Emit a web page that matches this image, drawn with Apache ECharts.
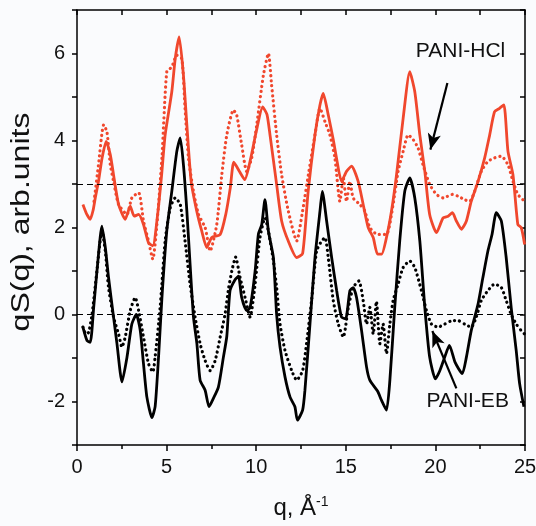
<!DOCTYPE html>
<html>
<head>
<meta charset="utf-8">
<script src="https://cdn.jsdelivr.net/npm/echarts@6/dist/echarts.min.js"></script>
<style>html,body{margin:0;padding:0;background:#fafbfd;}#c{width:536px;height:526px;}</style>
</head>
<body>
<div id="c"></div>
<script>
// ---- data: [q, qS(q)] pairs ----
const hclSolid = [[0.33,2.53],[0.55,2.3],[0.74,2.19],[0.9,2.4],[1.02,2.68],[1.2,3.06],[1.4,3.6],[1.63,3.98],[1.86,3.67],[2.04,3.21],[2.32,2.53],[2.69,2.19],[2.97,2.49],[3.19,2.26],[3.44,2.30],[3.71,2.07],[3.99,1.65],[4.23,1.58],[4.5,2.3],[4.72,3.2],[4.92,4.13],[5.29,5.12],[5.48,5.88],[5.70,6.38],[5.94,5.50],[6.13,4.36],[6.37,3.06],[6.68,2.38],[6.96,1.92],[7.24,1.54],[7.52,1.77],[7.99,1.84],[8.3,2.3],[8.55,2.9],[8.75,3.5],[9.05,3.3],[9.36,3.1],[9.7,3.6],[10.0,4.2],[10.36,4.77],[10.6,4.6],[10.77,4.13],[11.14,2.99],[11.42,2.15],[11.79,1.69],[12.26,1.31],[12.59,1.4],[12.9,2.83],[13.28,4.13],[13.55,4.8],[13.74,5.08],[14.02,4.59],[14.3,4.02],[14.48,3.6],[14.76,3.06],[15.04,3.29],[15.32,3.41],[15.69,3.06],[15.97,2.53],[16.25,2.0],[16.53,1.77],[16.77,1.39],[17.0,1.39],[17.27,1.77],[17.55,2.38],[17.83,3.21],[18.2,4.51],[18.57,5.58],[18.85,5.12],[19.13,4.13],[19.41,3.29],[19.68,2.30],[20.06,1.88],[20.43,2.22],[20.71,2.26],[20.95,2.34],[21.17,2.15],[21.45,1.96],[21.73,2.15],[22.0,2.6],[22.38,3.06],[22.75,3.6],[23.03,4.13],[23.3,4.66],[23.58,4.74],[23.82,4.82],[24.05,3.75],[24.33,3.21],[24.6,2.07],[24.79,2.0],[24.98,1.61]];
const hclDotted = [[0.95,2.6],[1.02,2.83],[1.2,3.44],[1.49,4.36],[1.67,4.2],[1.86,3.44],[2.04,3.06],[2.32,2.53],[2.79,2.3],[3.06,2.68],[3.44,2.8],[3.71,2.15],[3.99,1.69],[4.23,1.27],[4.46,2.07],[4.74,3.6],[5.01,5.58],[5.29,5.69],[5.57,5.96],[5.85,5.88],[6.03,4.74],[6.22,3.6],[6.5,2.83],[6.78,2.3],[7.15,2.0],[7.43,1.46],[7.8,2.07],[8.08,3.21],[8.36,4.13],[8.73,4.7],[8.91,4.59],[9.19,3.9],[9.47,3.29],[9.75,3.6],[10.03,4.36],[10.4,5.5],[10.68,6.0],[10.86,5.27],[11.14,4.13],[11.42,3.21],[11.79,2.38],[12.26,1.69],[12.59,2.38],[12.91,3.21],[13.28,4.13],[13.56,4.74],[13.84,4.43],[14.11,4.13],[14.39,3.6],[14.67,2.6],[14.86,3.14],[15.04,2.6],[15.23,3.06],[15.41,2.68],[15.78,2.53],[16.06,2.38],[16.34,2.0],[16.77,1.84],[17.27,1.84],[17.64,2.53],[17.92,3.29],[18.2,3.75],[18.48,4.13],[18.76,4.02],[19.03,3.83],[19.31,3.44],[19.68,2.99],[20.06,2.76],[20.43,2.68],[20.95,2.76],[21.26,2.72],[21.63,2.64],[21.91,2.6],[22.19,2.83],[22.56,3.29],[22.93,3.52],[23.3,3.6],[23.68,3.64],[24.05,3.44],[24.33,3.06],[24.6,2.76],[24.88,2.64]];
const ebSolid = [[0.33,-0.29],[0.56,-0.6],[0.74,-0.64],[0.93,0.16],[1.15,1.16],[1.39,2.03],[1.58,1.54],[1.76,0.85],[2.04,-0.06],[2.23,-0.67],[2.51,-1.55],[2.79,-0.98],[3.06,-0.22],[3.31,0.0],[3.53,-0.37],[3.71,-1.13],[3.9,-1.9],[4.18,-2.37],[4.36,-2.12],[4.55,-0.98],[4.74,0.39],[5.01,1.92],[5.29,2.83],[5.57,3.75],[5.76,4.06],[5.94,3.44],[6.13,2.38],[6.31,1.16],[6.5,-0.06],[6.69,-0.67],[6.87,-1.51],[7.15,-1.74],[7.37,-2.12],[7.61,-1.93],[7.89,-1.67],[8.17,-0.98],[8.36,-0.5],[8.54,0.55],[8.82,0.8],[9.01,0.88],[9.19,0.39],[9.47,0.09],[9.66,0.16],[9.94,1.0],[10.12,1.84],[10.31,2.07],[10.49,2.64],[10.68,1.92],[10.96,1.31],[11.14,0.0],[11.33,-0.75],[11.61,-1.44],[11.89,-1.9],[12.16,-2.12],[12.3,-2.43],[12.59,-2.2],[12.72,-1.74],[13.0,-0.22],[13.28,1.31],[13.56,2.38],[13.69,2.83],[13.93,2.15],[14.21,1.31],[14.49,0.55],[14.76,-0.06],[14.99,-0.1],[15.23,0.55],[15.41,0.62],[15.6,0.39],[15.88,-0.37],[16.16,-1.21],[16.34,-1.51],[16.77,-1.76],[16.99,-1.97],[17.27,-2.2],[17.46,-1.51],[17.73,0.16],[18.01,1.69],[18.29,2.83],[18.57,3.14],[18.85,2.68],[19.13,1.69],[19.41,0.16],[19.68,-0.98],[20.0,-1.48],[20.24,-1.3],[20.52,-0.98],[20.78,-0.71],[21.1,-1.1],[21.5,-1.36],[21.73,-0.98],[22.0,-0.37],[22.38,0.24],[22.65,0.85],[22.93,1.46],[23.16,1.84],[23.4,2.34],[23.68,2.15],[23.95,1.31],[24.23,0.16],[24.51,-0.83],[24.7,-1.59],[24.94,-2.12]];
const ebDotted = [[0.33,-0.29],[0.5,-0.45],[0.65,-0.41],[0.84,0.0],[1.11,1.0],[1.39,1.92],[1.58,1.46],[1.76,0.62],[2.04,-0.06],[2.32,-0.45],[2.51,-0.75],[2.69,-0.52],[2.97,0.09],[3.25,0.39],[3.44,0.09],[3.71,-0.52],[3.99,-1.13],[4.23,-1.32],[4.36,-0.98],[4.64,0.16],[4.92,1.69],[5.2,2.45],[5.48,2.68],[5.76,2.53],[6.03,1.69],[6.31,0.7],[6.59,-0.06],[6.87,-0.67],[7.15,-1.06],[7.43,-1.29],[7.71,-1.06],[7.99,-0.52],[8.26,0.0],[8.46,0.6],[8.64,1.0],[8.85,1.32],[9.1,0.85],[9.38,0.39],[9.66,-0.06],[9.94,0.7],[10.21,1.77],[10.49,2.22],[10.68,1.92],[10.96,1.23],[11.14,0.62],[11.33,-0.22],[11.61,-0.83],[11.98,-1.29],[12.26,-1.51],[12.59,-1.29],[12.81,-0.67],[13.09,0.32],[13.37,1.46],[13.65,1.69],[13.84,1.77],[14.02,1.31],[14.3,0.32],[14.58,-0.22],[14.86,-0.52],[15.14,0.16],[15.41,0.62],[15.73,0.77],[15.97,0.32],[16.16,-0.22],[16.34,0.16],[16.53,-0.45],[16.71,0.3],[16.9,-0.67],[17.08,-0.22],[17.27,-0.9],[17.46,-0.22],[17.64,0.32],[17.92,0.7],[18.2,1.08],[18.57,1.23],[18.85,1.08],[19.22,0.55],[19.5,0.09],[19.78,-0.22],[20.15,-0.29],[20.52,-0.22],[20.95,-0.14],[21.26,-0.14],[21.63,-0.22],[22.0,-0.29],[22.28,-0.06],[22.56,0.32],[22.93,0.55],[23.3,0.7],[23.68,0.62],[23.95,0.32],[24.23,0.0],[24.51,-0.22],[24.79,-0.37],[24.98,-0.45]];
const refLines = [3, 0];
const xTicks = {min: 0, max: 25, step: 5};
const yTicks = {min: -3, max: 7, step: 1};
const yTitle = 'qS(q), arb.units';
const labelHCl = {text: 'PANI-HCl', at: [21.4, 6.05], arrowFrom: [20.67, 5.32], arrowTo: [19.72, 3.79]};
const labelEB = {text: 'PANI-EB', at: [21.8, -2.0], arrowFrom: [21.17, -1.70], arrowTo: [19.83, -0.38]};

const RED = '#f0472d';
const FONT = 'Liberation Sans, Arial, sans-serif';
const chart = echarts.init(document.getElementById('c'), null, {renderer: 'canvas'});
const axLine = {show: true, onZero: false, lineStyle: {color: '#000', width: 1.5}};
const dotStyle = (c) => ({color: c, width: 3.2, type: [0.1, 5], cap: 'round'});

chart.setOption({
  backgroundColor: '#fafbfd',
  animation: false,
  textStyle: {fontFamily: FONT},
  grid: {left: 77, top: 10, right: 11, bottom: 81, containLabel: false, outerBoundsMode: 'none'},
  graphic: [
    {type: 'text', x: 22, y: 222, rotation: Math.PI / 2, scaleX: 1.28, scaleY: 1, silent: true,
     style: {text: yTitle, fontSize: 25, fontFamily: FONT, fill: '#111', align: 'center', verticalAlign: 'middle'}}
  ],
  xAxis: [
    {type: 'value', position: 'bottom', min: xTicks.min, max: xTicks.max, interval: xTicks.step,
     axisLine: axLine, axisTick: {show: true, inside: false, length: 6, lineStyle: {color: '#000', width: 1.5}},
     minorTick: {show: true, splitNumber: 2, length: 4, lineStyle: {color: '#000', width: 1.5}},
     splitLine: {show: false}, minorSplitLine: {show: false},
     axisLabel: {color: '#111', fontSize: 20, margin: 12, fontFamily: FONT},
     name: '{n|q, Å}{s|-1}', nameLocation: 'middle', nameGap: 50,
     nameTextStyle: {rich: {n: {fontSize: 24, color: '#111', fontFamily: FONT}, s: {fontSize: 14, color: '#111', fontFamily: FONT, verticalAlign: 'top', padding: [0, 0, 12, 0]}}}},
    {type: 'value', position: 'top', min: xTicks.min, max: xTicks.max, interval: xTicks.step / 2,
     axisLine: axLine, axisTick: {show: true, inside: true, length: 5, lineStyle: {color: '#000', width: 1.5}},
     splitLine: {show: false}, axisLabel: {show: false}}
  ],
  yAxis: [
    {type: 'value', position: 'left', min: yTicks.min, max: yTicks.max, interval: yTicks.step,
     axisLine: axLine, axisTick: {show: true, inside: false, length: 5, lineStyle: {color: '#000', width: 1.5}},
     splitLine: {show: false},
     axisLabel: {color: '#111', fontSize: 20, margin: 12, fontFamily: FONT,
       formatter: v => (Math.round(v) % 2 === 0 ? String(v) : '')}},
    {type: 'value', position: 'right', min: yTicks.min, max: yTicks.max, interval: yTicks.step,
     axisLine: axLine, axisTick: {show: true, inside: true, length: 5, lineStyle: {color: '#000', width: 1.5}},
     splitLine: {show: false}, axisLabel: {show: false}}
  ],
  series: [
    {type: 'line', name: 'HCl dotted', data: hclDotted, showSymbol: false, smooth: 0.2, lineStyle: dotStyle(RED), z: 2},
    {type: 'line', name: 'HCl', data: hclSolid, showSymbol: false, smooth: 0.2, lineStyle: {color: RED, width: 2.8}, z: 3,
     markLine: {silent: true, symbol: ['none', 'arrow'], symbolSize: [10, 16],
       lineStyle: {color: '#000', width: 2.2, type: 'solid'}, label: {show: false},
       data: [[{coord: labelHCl.arrowFrom}, {coord: labelHCl.arrowTo}]]},
     markPoint: {silent: true, symbol: 'circle', symbolSize: 0,
       label: {show: true, position: 'inside', color: '#111', fontSize: 21, fontFamily: FONT, formatter: labelHCl.text},
       data: [{coord: labelHCl.at}]}},
    {type: 'line', name: 'EB dotted', data: ebDotted, showSymbol: false, smooth: 0.2, lineStyle: dotStyle('#000'), z: 2},
    {type: 'line', name: 'EB', data: ebSolid, showSymbol: false, smooth: 0.2, lineStyle: {color: '#000', width: 2.8}, z: 3,
     markLine: {silent: true, symbol: ['none', 'arrow'], symbolSize: [10, 16],
       lineStyle: {color: '#000', width: 2.2, type: 'solid'}, label: {show: false},
       data: [[{coord: labelEB.arrowFrom}, {coord: labelEB.arrowTo}]]
         .concat(refLines.map(v => [{coord: [xTicks.min, v], symbol: 'none', lineStyle: {type: [6, 4], width: 1.2, color: '#000'}},
                                     {coord: [xTicks.max, v], symbol: 'none'}]))},
     markPoint: {silent: true, symbol: 'circle', symbolSize: 0,
       label: {show: true, position: 'inside', color: '#111', fontSize: 21, fontFamily: FONT, formatter: labelEB.text},
       data: [{coord: labelEB.at}]}}
  ]
});
</script>
</body>
</html>
